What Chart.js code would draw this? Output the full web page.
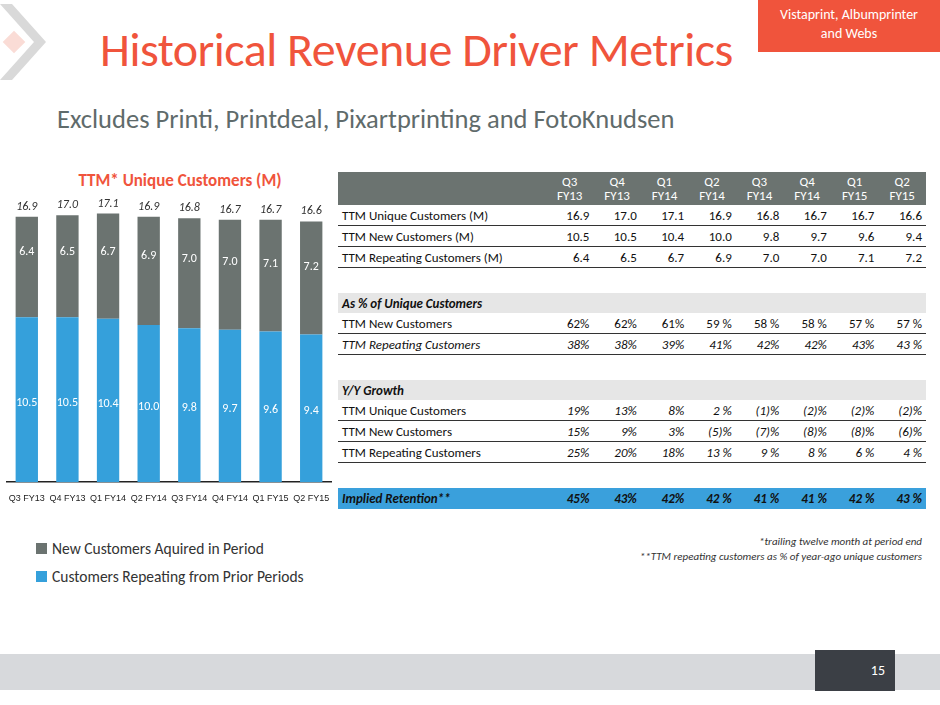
<!DOCTYPE html>
<html><head><meta charset="utf-8">
<script src="https://cdn.jsdelivr.net/npm/chart.js@4"></script>
<style>
body{margin:0;width:940px;height:705px;position:relative;font-family:Carlito,"Open Sans","Liberation Sans",sans-serif;background:#fff;overflow:hidden}
.abs{position:absolute}
#title{left:100px;top:20px;font-size:48px;color:#f0543c;letter-spacing:-0.5px}
#sub{left:57px;top:103px;font-size:26.5px;color:#5f6b6b}
#tag{left:758px;top:0;width:182px;height:52px;background:#f0543c;color:#fff;font-size:14px;text-align:center;line-height:19px;padding-top:5px;box-sizing:border-box}
#ctitle{left:40px;top:170px;width:280px;text-align:center;color:#f0543c;font-weight:bold;font-size:17px}
#wrap{left:3px;top:190px;width:332px;height:320px}
table{border-collapse:collapse;position:absolute;left:338px;top:172px;width:588px;font-size:13px;color:#111}
td{padding:0 4px;height:20px;text-align:right}
td:first-child{text-align:left;padding-left:4px;width:200px}
tr.hd td{background:#6b7370;color:#fff;height:33px;line-height:14px;text-align:center}
tr.ln td{border-bottom:1px solid #333}
tr.sec td{background:#e6e6e6;font-weight:bold;font-style:italic}
tr.gap td{height:25px}
tr.ret td{background:#3aa0dc;font-weight:bold;font-style:italic;height:21px}
.it{font-style:italic}
.leg{left:36px;font-size:15.5px;color:#333}
.sw{display:inline-block;width:11px;height:11px;margin-right:5px}
#foot{right:18px;top:534px;text-align:right;font-size:11px;font-style:italic;color:#333;line-height:15px}
#band{left:0;top:654px;width:940px;height:36px;background:#d7d9dc}
#pg{left:815px;top:650px;width:80px;height:41px;background:#3b3f45;color:#fff;font-size:14px;text-align:right;padding:12px 10px 0 0;box-sizing:border-box}
</style></head><body>
<svg class="abs" style="left:0;top:0" width="60" height="90"><path d="M0 4 L12 4 L46 42 L12 80 L0 80 L34 42 Z" fill="#d9d9d9"/><rect x="6" y="34" width="16" height="16" fill="#fadcd6" transform="rotate(45 14 42)"/></svg>
<div id="title" class="abs">Historical Revenue Driver Metrics</div>
<div id="tag" class="abs">Vistaprint, Albumprinter<br>and Webs</div>
<div id="sub" class="abs">Excludes Printi, Printdeal, Pixartprinting and FotoKnudsen</div>
<div id="ctitle" class="abs">TTM* Unique Customers (M)</div>
<div id="wrap" class="abs"><canvas id="c"></canvas></div>
<div class="abs leg" style="top:539px"><span class="sw" style="background:#6b7370"></span>New Customers Aquired in Period</div>
<div class="abs leg" style="top:567px"><span class="sw" style="background:#35a0db"></span>Customers Repeating from Prior Periods</div>
<table id="tbl"></table>
<div id="foot" class="abs">*trailing twelve month at period end<br>**TTM repeating customers as % of year-ago unique customers</div>
<div id="band" class="abs"></div>
<div id="pg" class="abs">15</div>
<script>
const quarters = ['Q3 FY13','Q4 FY13','Q1 FY14','Q2 FY14','Q3 FY14','Q4 FY14','Q1 FY15','Q2 FY15'];
const repeating = [10.5,10.5,10.4,10.0,9.8,9.7,9.6,9.4];
const newCust = [6.4,6.5,6.7,6.9,7.0,7.0,7.1,7.2];
const totals = [16.9,17.0,17.1,16.9,16.8,16.7,16.7,16.6];
const hdr = [['Q3','FY13'],['Q4','FY13'],['Q1','FY14'],['Q2','FY14'],['Q3','FY14'],['Q4','FY14'],['Q1','FY15'],['Q2','FY15']];
const rowsAbs = [
  ['TTM Unique Customers (M)', ['16.9','17.0','17.1','16.9','16.8','16.7','16.7','16.6']],
  ['TTM New Customers (M)', ['10.5','10.5','10.4','10.0','9.8','9.7','9.6','9.4']],
  ['TTM Repeating Customers (M)', ['6.4','6.5','6.7','6.9','7.0','7.0','7.1','7.2']]
];
const rowsPct = [
  ['TTM New Customers', ['62%','62%','61%','59 %','58 %','58 %','57 %','57 %'], false],
  ['TTM Repeating Customers', ['38%','38%','39%','41%','42%','42%','43%','43 %'], true]
];
const rowsGrowth = [
  ['TTM Unique Customers', ['19%','13%','8%','2 %','(1)%','(2)%','(2)%','(2)%']],
  ['TTM New Customers', ['15%','9%','3%','(5)%','(7)%','(8)%','(8)%','(6)%']],
  ['TTM Repeating Customers', ['25%','20%','18%','13 %','9 %','8 %','6 %','4 %']]
];
const retention = ['45%','43%','42%','42 %','41 %','41 %','42 %','43 %'];

const cells = (v, cls) => v.map(x => `<td${cls ? ' class="' + cls + '"' : ''}>${x}</td>`).join('');
let html = `<tr class="hd"><td></td>${hdr.map(h => `<td>${h[0]}<br>${h[1]}</td>`).join('')}</tr>`;
html += rowsAbs.map(r => `<tr class="ln"><td>${r[0]}</td>${cells(r[1])}</tr>`).join('');
html += '<tr class="gap"><td colspan="9"></td></tr><tr class="sec"><td colspan="9">As % of Unique Customers</td></tr>';
html += rowsPct.map(r => `<tr class="ln"><td${r[2] ? ' class="it"' : ''}>${r[0]}</td>${cells(r[1], r[2] ? 'it' : '')}</tr>`).join('');
html += '<tr class="gap"><td colspan="9"></td></tr><tr class="sec"><td colspan="9">Y/Y Growth</td></tr>';
html += rowsGrowth.map(r => `<tr class="ln"><td>${r[0]}</td>${cells(r[1], 'it')}</tr>`).join('');
html += `<tr class="gap"><td colspan="9"></td></tr><tr class="ret"><td>Implied Retention**</td>${cells(retention)}</tr>`;
document.getElementById('tbl').innerHTML = html;

const labelPlugin = {
  id: 'labels',
  afterDatasetsDraw(chart) {
    const ctx = chart.ctx;
    ctx.save();
    ctx.textAlign = 'center';
    ctx.textBaseline = 'middle';
    chart.data.datasets.forEach((ds, di) => {
      chart.getDatasetMeta(di).data.forEach((bar, i) => {
        ctx.fillStyle = '#fff';
        ctx.font = '12px Carlito, "Open Sans", sans-serif';
        ctx.fillText(ds.data[i].toFixed(1), bar.x, di === 0 ? bar.y + (bar.base - bar.y) * 0.52 : bar.y + 35 + i * 1.5);
      });
    });
    const top = chart.getDatasetMeta(1).data;
    ctx.fillStyle = '#333';
    ctx.font = 'italic 12px Carlito, "Open Sans", sans-serif';
    top.forEach((bar, i) => ctx.fillText(totals[i].toFixed(1), bar.x, bar.y - 10));
    ctx.restore();
  }
};

new Chart(document.getElementById('c'), {
  type: 'bar',
  data: {
    labels: quarters,
    datasets: [
      { label: 'Customers Repeating from Prior Periods', data: repeating, backgroundColor: '#35a0db', barPercentage: 0.55, categoryPercentage: 1 },
      { label: 'New Customers Aquired in Period', data: newCust, backgroundColor: '#6b7370', barPercentage: 0.55, categoryPercentage: 1 }
    ]
  },
  options: {
    responsive: true, maintainAspectRatio: false, animation: false,
    layout: { padding: { top: 0, left: 0, right: 0 } },
    plugins: { legend: { display: false }, tooltip: { enabled: false } },
    scales: {
      x: { stacked: true, grid: { display: false, drawTicks: true, tickLength: 5 }, border: { color: '#222', width: 1.5 },
           ticks: { color: '#222', font: { size: 9 }, maxRotation: 0, autoSkip: false, padding: 6 } },
      y: { stacked: true, min: 0, max: 18.6, display: false }
    }
  },
  plugins: [labelPlugin]
});
</script>
</body></html>
